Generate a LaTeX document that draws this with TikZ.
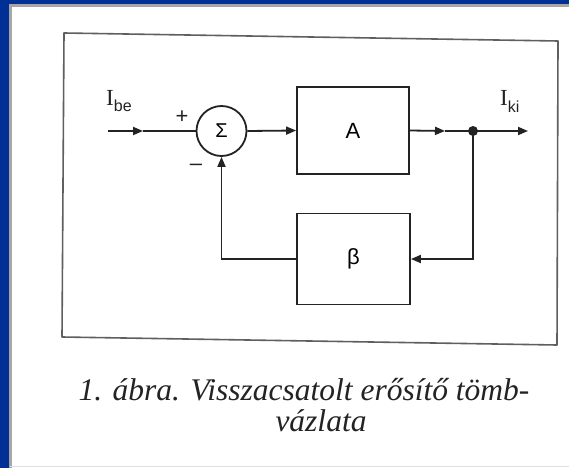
\documentclass[tikz,border=0pt]{standalone}
\usepackage{fontspec}
\setmainfont{Liberation Serif}
\newfontfamily\sansf{Liberation Sans}
\usetikzlibrary{arrows.meta}
\definecolor{bgblue}{RGB}{0,48,150}
\definecolor{ink}{RGB}{35,35,35}
\definecolor{framec}{RGB}{95,95,95}
\begin{document}
\begin{tikzpicture}[x=1pt,y=-1pt,
  wire/.style={draw=ink, line width=1.8pt},
  arr/.style={wire, -{Triangle[length=10pt,width=8pt]}},
  blk/.style={draw=ink, line width=1.8pt, inner sep=0pt, font=\sansf\fontsize{22}{22}\selectfont},
  sumc/.style={circle, draw=ink, line width=1.8pt, inner sep=0pt, minimum size=50pt, font=\sansf\fontsize{20}{20}\selectfont},
  lbl/.style={inner sep=0pt, text=ink},
  captxt/.style={inner sep=0pt, anchor=base, text=ink, font=\itshape\fontsize{31.5}{31.5}\selectfont}]
\useasboundingbox (0,0) rectangle (569,468);
\fill[white] (0,0) rectangle (569,468);
% blue border
\fill[bgblue] (0,0) rectangle (569,4);
\fill[bgblue] (0,0) rectangle (9,468);
\draw[gray!70, line width=3pt] (10.5,468) -- (10.5,5.5) -- (569,5.5);
\draw[gray!25, line width=1pt] (10,466.5) -- (569,466.5);
% frame
\draw[framec, line width=1.6pt, line join=round] (64,33) -- (558,41) -- (557,345) -- (62,337) -- cycle;
% blocks
\node[sumc] (sum) at (221.5,131) {Σ};
\node[blk, minimum width=112pt, minimum height=87pt] (A) at (353,130.5) {A};
\node[blk, minimum width=113pt, minimum height=91pt] (B) at (353.5,259) {β};
% coordinates
\coordinate (inS) at (108,131);
\coordinate (inM) at (143,131);
\coordinate (outM) at (445,131);
\coordinate (junc) at (473,131);
\coordinate (outE) at (528,131);
% connectors
\draw[arr] (inS) -- (inM);
\draw[wire] (inM) -- (sum.west);
\draw[arr] (sum.east) -- (A.west);
\draw[arr] (A.east) -- (outM);
\draw[wire] (outM) -- (junc);
\draw[arr] (junc) -- (outE);
\draw[arr] (junc) |- (B.east);
\draw[arr] (B.west) -| (sum.south);
\fill[ink] (junc) circle (5pt);
% labels
\node[lbl, anchor=base west] (ibe) at (106,105) {\fontsize{23}{23}\selectfont I\raisebox{-6pt}{\sansf\fontsize{16}{16}\selectfont be}};
\node[lbl, anchor=base west] (iki) at (500,105) {\fontsize{23}{23}\selectfont I\raisebox{-7pt}{\sansf\fontsize{16}{16}\selectfont ki}};
\node[lbl, font=\sansf\fontsize{22}{22}\selectfont] (plus) at (182,117) {+};
\node[lbl, font=\sansf\fontsize{22}{22}\selectfont] (minus) at (196,167) {–};
% caption
\node[captxt] (c1) at (304,400) {1. ábra. Visszacsatolt erősítő tömb-};
\node[captxt] (c2) at (321,431) {vázlata};
\end{tikzpicture}
\end{document}
